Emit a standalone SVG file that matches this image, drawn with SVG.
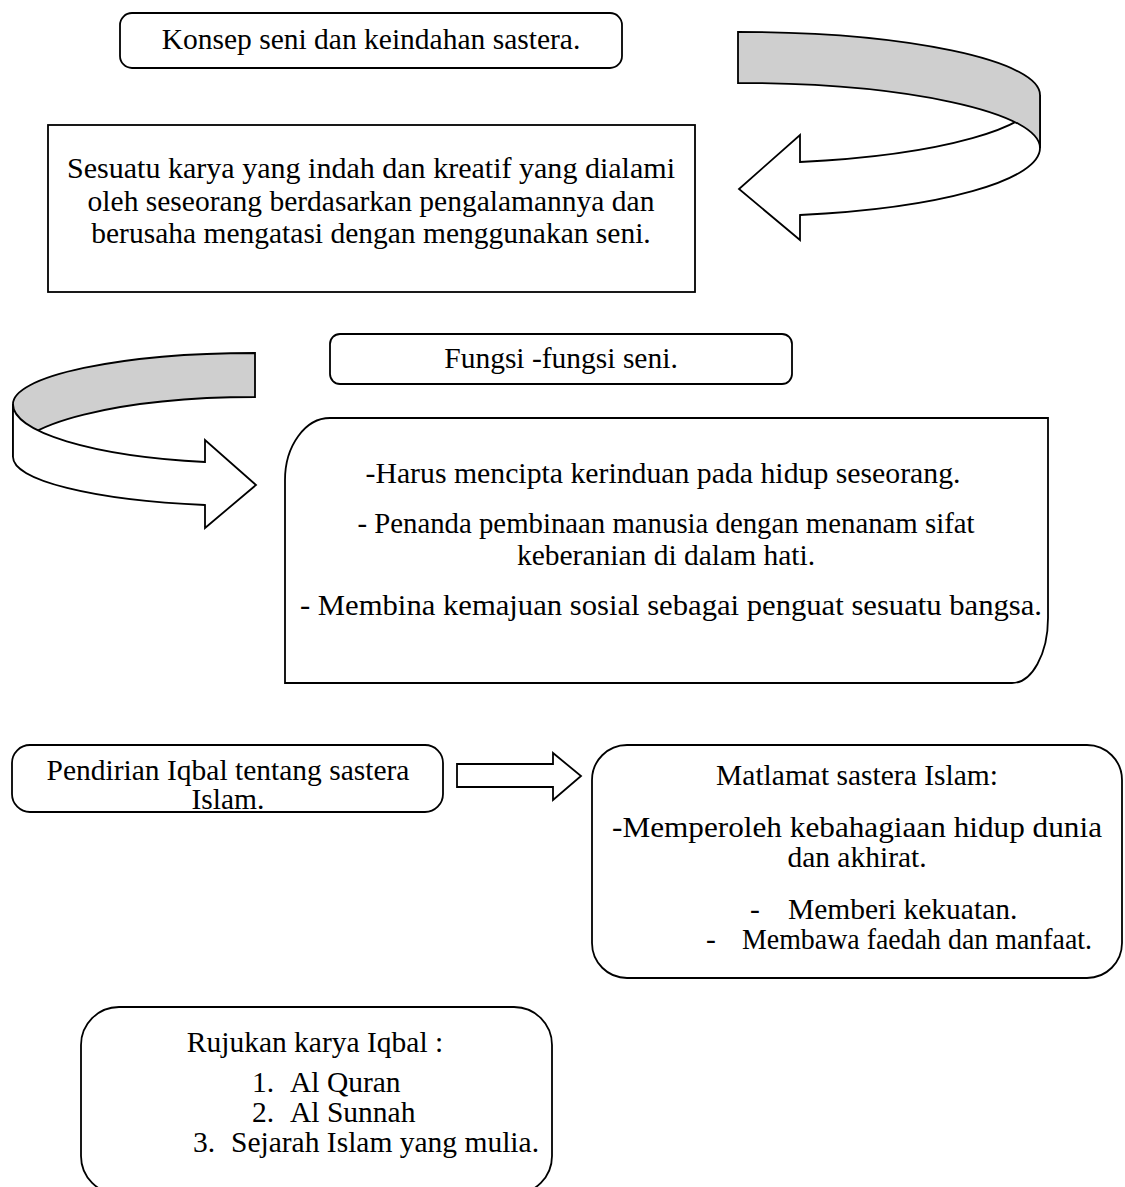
<svg xmlns="http://www.w3.org/2000/svg" width="1125" height="1187" viewBox="0 0 1125 1187">
<style>
.box{fill:#fff;stroke:#000;stroke-width:1.8}
.t{font-family:"Liberation Serif","Times New Roman",serif;font-size:29.5px;fill:#000}
.c{text-anchor:middle}
.band{fill:#cfcfcf;stroke:#000;stroke-width:1.8;stroke-linejoin:miter}
.front{fill:#fff;stroke:#000;stroke-width:1.8;stroke-linejoin:miter}
</style>
<rect width="1125" height="1187" fill="#fff"/>

<g id="konsep">
<rect class="box" x="120" y="13" width="502" height="55" rx="12"/>
<text class="t c" x="371" y="49">Konsep seni dan keindahan sastera.</text>
</g>

<g id="sesuatu">
<rect class="box" x="48" y="125" width="647" height="167"/>
<text class="t c" x="371" y="178" textLength="608" lengthAdjust="spacingAndGlyphs">Sesuatu karya yang indah dan kreatif  yang dialami</text>
<text class="t c" x="371" y="211">oleh seseorang berdasarkan pengalamannya dan</text>
<text class="t c" x="371" y="243">berusaha mengatasi dengan menggunakan seni.</text>
</g>

<g id="fungsi-title">
<rect class="box" x="330" y="334" width="462" height="50" rx="10"/>
<text class="t c" x="561" y="368">Fungsi -fungsi seni.</text>
</g>

<g id="fungsi">
<path class="box" d="M330,418 L1048,418 L1048,618 A36,65 0 0 1 1012,683 L285,683 L285,480 A45,62 0 0 1 330,418 Z"/>
<text class="t c" x="663" y="483" textLength="595" lengthAdjust="spacingAndGlyphs">-Harus mencipta kerinduan pada hidup seseorang.</text>
<text class="t c" x="666" y="533" textLength="617" lengthAdjust="spacingAndGlyphs">- Penanda pembinaan manusia dengan menanam sifat</text>
<text class="t c" x="666" y="565">keberanian di dalam hati.</text>
<text class="t c" x="671" y="615" textLength="742" lengthAdjust="spacingAndGlyphs">- Membina kemajuan sosial sebagai penguat sesuatu bangsa.</text>
</g>

<g id="pendirian">
<rect class="box" x="12" y="745" width="431" height="67" rx="18"/>
<text class="t c" x="228" y="780">Pendirian Iqbal tentang sastera</text>
<text class="t c" x="228" y="809">Islam.</text>
</g>

<g id="matlamat">
<rect class="box" x="592" y="745" width="530" height="233" rx="35"/>
<text class="t c" x="857" y="785">Matlamat sastera Islam:</text>
<text class="t c" x="857" y="837" textLength="490" lengthAdjust="spacingAndGlyphs">-Memperoleh kebahagiaan hidup dunia</text>
<text class="t c" x="857" y="867">dan akhirat.</text>
<text class="t" x="750" y="919">-</text>
<text class="t" x="788" y="919">Memberi kekuatan.</text>
<text class="t" x="706" y="949">-</text>
<text class="t" x="742" y="949" textLength="350" lengthAdjust="spacingAndGlyphs">Membawa faedah dan manfaat.</text>
</g>

<g id="rujukan">
<rect class="box" x="81" y="1007" width="471" height="187" rx="38"/>
<text class="t c" x="315" y="1052">Rujukan karya Iqbal :</text>
<text class="t" x="252" y="1092">1.</text>
<text class="t" x="290" y="1092">Al Quran</text>
<text class="t" x="252" y="1122">2.</text>
<text class="t" x="290" y="1122">Al Sunnah</text>
<text class="t" x="193" y="1152">3.</text>
<text class="t" x="231" y="1152">Sejarah Islam yang mulia.</text>
</g>

<g id="connectors">
<g id="curved-arrow-1">
<path class="front" d="M1040,95 A302,68.5 0 0 1 800,162 L800,135 L739,189 L800,240 L800,215 A302,68.5 0 0 0 1040,148 Z"/>
<path class="band" d="M738,32 A302,63 0 0 1 1040,95 L1040,148 A302,65 0 0 0 738,83 Z"/>
</g>
<g id="curved-arrow-2">
<path class="band" d="M255,353 A242,51 0 0 0 13,404 L13,457 A242,60 0 0 1 255,397 Z"/>
<path class="front" d="M13,404 A242,59 0 0 0 205,462 L205,440 L256,485 L205,528 L205,505 A242,49 0 0 1 13,457 Z"/>
</g>
<g id="straight-arrow">
<polygon class="front" points="457,764 553,764 553,753 581,776 553,800 553,787 457,787"/>
</g>
</g>
</svg>
